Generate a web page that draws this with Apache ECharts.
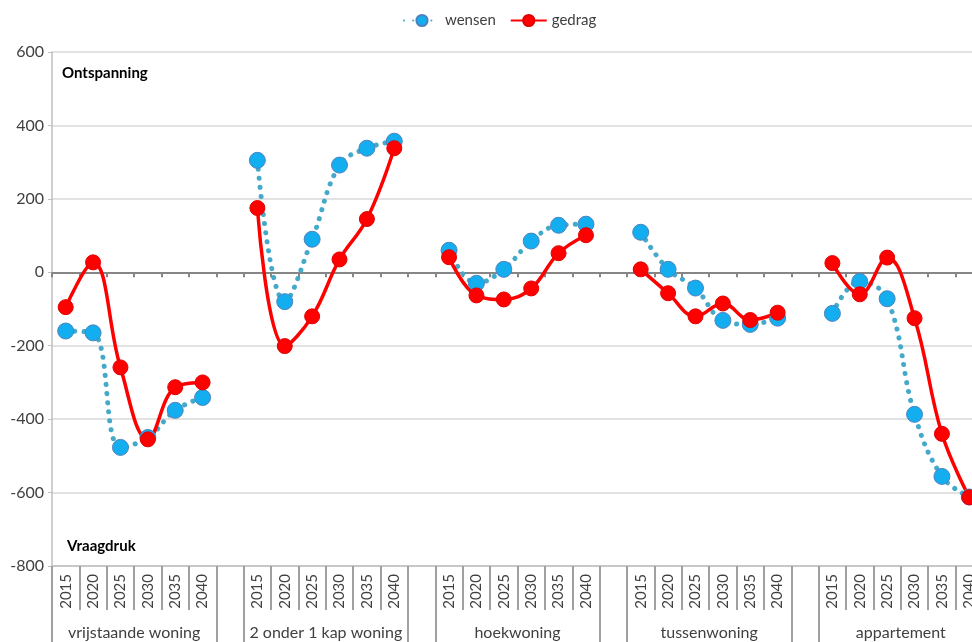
<!DOCTYPE html>
<head>
    <meta charset="utf-8">
    <script src="https://cdn.jsdelivr.net/npm/echarts@6/dist/echarts.min.js"></script>
    <title>Wensen en gedrag</title>
    <style>
        html, body { margin: 0; padding: 0; background: #fff; }
    </style>
</head>

<body>
    <div id="main" style="width:972px;height:642px;"></div>
    <script type="text/javascript">
        var years = ['2015', '2020', '2025', '2030', '2035', '2040'];
        var groups = ['vrijstaande woning', '2 onder 1 kap woning', 'hoekwoning', 'tussenwoning', 'appartement'];

        // wensen per woningtype
        var wensenVrij = [-160, -165, -477, -450, -376, -341];
        var wensen2o1 = [305, -80, 90, 292, 338, 357];
        var wensenHoek = [60, -30, 8, 85, 128, 131];
        var wensenTussen = [109, 8, -43, -131, -142, -125];
        var wensenApp = [-112, -25, -72, -387, -556, -612];

        // gedrag per woningtype
        var gedragVrij = [-95, 27, -259, -455, -313, -300];
        var gedrag2o1 = [175, -201, -120, 35, 145, 338];
        var gedragHoek = [41, -63, -74, -44, 52, 101];
        var gedragTussen = [8, -57, -120, -85, -130, -110];
        var gedragApp = [25, -60, 40, -125, -440, -613];

        // groepen aan elkaar plakken met een lege categorie ertussen
        function joinGroups(parts) {
            var out = [];
            parts.forEach(function (p, i) {
                if (i > 0) out.push(null);
                out = out.concat(p);
            });
            return out;
        }
        var cats = [];
        groups.forEach(function (g, i) {
            if (i > 0) cats.push('');
            cats = cats.concat(years);
        });
        var wensen = joinGroups([wensenVrij, wensen2o1, wensenHoek, wensenTussen, wensenApp]);
        var gedrag = joinGroups([gedragVrij, gedrag2o1, gedragHoek, gedragTussen, gedragApp]);

        // posities van de groepsgrenzen en -midden op de derde as
        var groupEdges = [];
        var groupMids = [];
        groups.forEach(function (g, i) {
            groupEdges.push(i * 7 - 0.5, i * 7 + 5.5);
            groupMids.push(i * 7 + 2.5);
        });

        var font = 'Lato, "Open Sans", sans-serif';
        var myChart = echarts.init(document.getElementById('main'));
        var option = {
            animation: false,
            textStyle: { fontFamily: font },
            legend: {
                top: 8,
                left: 398,
                itemWidth: 36,
                itemHeight: 14,
                itemGap: 14,
                textStyle: { fontSize: 15, color: '#404040', fontFamily: font },
                data: ['wensen', 'gedrag']
            },
            grid: { left: 52, top: 52, width: 931, height: 514, outerBoundsMode: 'none' },
            xAxis: [
                {
                    type: 'category',
                    data: cats,
                    axisLine: { onZero: true, lineStyle: { color: '#868686', width: 2 } },
                    axisTick: { show: true, interval: 0, length: 5, lineStyle: { color: '#868686', width: 2 } },
                    axisLabel: { show: false },
                    splitLine: { show: false }
                },
                {
                    type: 'category',
                    data: cats,
                    position: 'bottom',
                    axisLine: { onZero: false, lineStyle: { color: '#bfbfbf', width: 1.5 } },
                    axisTick: { show: true, interval: 0, length: 44, lineStyle: { color: '#a0a0a0', width: 2 } },
                    axisLabel: { interval: 0, rotate: 90, margin: 8, fontSize: 15, color: '#404040', fontFamily: font },
                    splitLine: { show: false }
                },
                {
                    type: 'value',
                    min: -0.5,
                    max: 33.5,
                    position: 'bottom',
                    axisLine: { show: false, onZero: false },
                    axisTick: { show: true, customValues: groupEdges, length: 76, lineStyle: { color: '#a0a0a0', width: 2 } },
                    axisLabel: {
                        customValues: groupMids,
                        margin: 59,
                        fontSize: 16,
                        color: '#404040',
                        fontFamily: font,
                        formatter: function (v) {
                            return groups[Math.round((v - 2.5) / 7)];
                        }
                    },
                    splitLine: { show: false }
                }
            ],
            yAxis: {
                type: 'value',
                min: -800,
                max: 600,
                interval: 200,
                axisLine: { show: true, onZero: false, lineStyle: { color: '#bfbfbf', width: 1.5 } },
                axisTick: { show: true, length: 4, lineStyle: { color: '#bfbfbf' } },
                axisLabel: { fontSize: 16, color: '#404040', margin: 8, fontFamily: font },
                splitLine: { lineStyle: { color: '#d9d9d9', width: 1.5 } }
            },
            graphic: [
                { type: 'text', left: 62, top: 66, style: { text: 'Ontspanning', font: 'bold 15px ' + font, fill: '#000' } },
                { type: 'text', left: 67, top: 539, style: { text: 'Vraagdruk', font: 'bold 15px ' + font, fill: '#000' } }
            ],
            series: [
                {
                    name: 'wensen',
                    type: 'line',
                    xAxisIndex: 0,
                    data: wensen,
                    smooth: 0.4,
                    symbol: 'circle',
                    symbolSize: 16,
                    connectNulls: false,
                    itemStyle: { color: '#13aef0', borderColor: '#4f81bd', borderWidth: 1 },
                    lineStyle: { color: '#45a9c9', width: 5, type: [0.1, 9], cap: 'round' }
                },
                {
                    name: 'gedrag',
                    type: 'line',
                    xAxisIndex: 0,
                    data: gedrag,
                    smooth: 0.4,
                    symbol: 'circle',
                    symbolSize: 15,
                    connectNulls: false,
                    itemStyle: { color: '#ff0000', borderColor: '#e00000', borderWidth: 1 },
                    lineStyle: { color: '#ff0000', width: 3.5 }
                }
            ]
        };
        myChart.setOption(option);
    </script>
</body>
